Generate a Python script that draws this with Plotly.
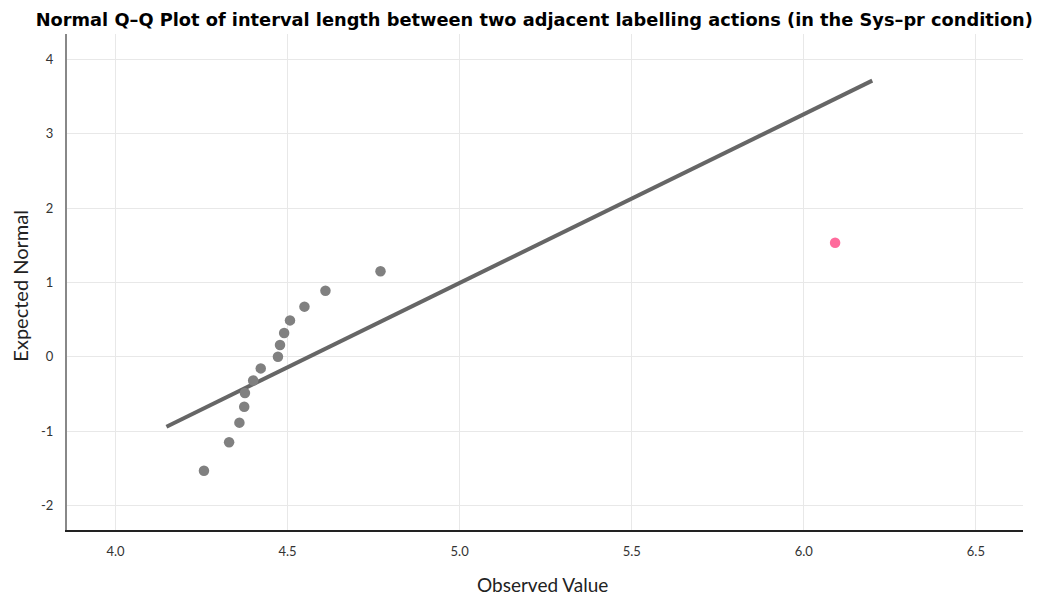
import plotly.graph_objects as go

observed = [4.257, 4.330, 4.360, 4.374, 4.376, 4.400, 4.422, 4.472, 4.478,
            4.490, 4.507, 4.549, 4.610, 4.770, 6.091]
expected = [-1.534, -1.150, -0.887, -0.674, -0.489, -0.319, -0.157, 0.0, 0.157,
            0.319, 0.489, 0.674, 0.887, 1.150, 1.534]
point_colors = ["#808080"] * 14 + ["#ff6b9c"]
line_x = [4.148, 6.199]
line_y = [-0.942, 3.715]
x_ticks = [4.0, 4.5, 5.0, 5.5, 6.0, 6.5]
y_ticks = [-2, -1, 0, 1, 2, 3, 4]

fig = go.Figure()
fig.add_trace(go.Scatter(x=line_x, y=line_y, mode="lines",
                         line=dict(color="#666666", width=4), hoverinfo="skip",
                         showlegend=False))
fig.add_trace(go.Scatter(x=observed, y=expected, mode="markers",
                         marker=dict(color=point_colors, size=10.5, line=dict(width=0)),
                         showlegend=False))

font_main = "Lato, 'Open Sans', sans-serif"
# page body has an 8px margin; figure sized to fit the 1040x595 window
fig.update_layout(
    width=1032, height=587,
    margin=dict(l=59, r=17, t=26, b=65),
    paper_bgcolor="white", plot_bgcolor="white",
    font=dict(family=font_main, color="#222222"),
    title=dict(text="<b>Normal Q\u2013Q Plot of interval length between two adjacent labelling actions (in the Sys\u2013pr condition)</b>",
               x=0.510, xanchor="center", y=0.98, yanchor="middle",
               font=dict(family="'DejaVu Sans', Verdana, sans-serif", size=17.8, color="black")),
    xaxis=dict(range=[3.859, 6.637], tickvals=x_ticks, ticktext=[f"{v:.1f}" for v in x_ticks],
               showgrid=True, gridcolor="#e8e8e8", gridwidth=1.3, zeroline=False,
               showline=True, linecolor="#222222", linewidth=1.5,
               ticks="", tickfont=dict(size=13, color="#333333"), ticklabelstandoff=9),
    yaxis=dict(range=[-2.332, 4.343], tickvals=y_ticks, ticktext=[str(v) for v in y_ticks],
               showgrid=True, gridcolor="#e8e8e8", gridwidth=1.3, zeroline=False,
               showline=True, linecolor="#888888", linewidth=2,
               ticks="", tickfont=dict(size=13, color="#333333"), ticklabelstandoff=9),
    annotations=[
        dict(text="Observed Value", xref="paper", yref="paper", x=0.4975, y=-0.11,
             yanchor="middle", xanchor="center", showarrow=False,
             font=dict(size=19, color="#222222")),
        dict(text="Expected Normal", xref="paper", yref="paper", x=-0.049, y=0.493,
             xanchor="center", yanchor="middle", textangle=-90, showarrow=False,
             font=dict(size=20, color="#222222")),
    ],
)
fig.write_html("out.html")
